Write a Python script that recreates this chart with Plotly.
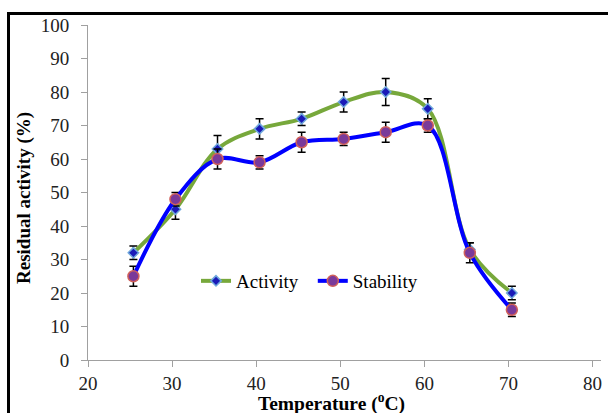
import plotly.graph_objects as go

temperature = [25.4, 30.4, 35.4, 40.4, 45.4, 50.4, 55.4, 60.4, 65.4, 70.4]
activity = [32, 45, 63, 69, 72, 77, 80, 75, 33, 20]
activity_err = [2, 3, 4, 3, 2, 3, 4, 3, 2, 2]
stability = [25, 48, 60, 59, 65, 66, 68, 70, 32, 15]
stability_err = [3, 2, 3, 2, 3, 2, 3, 2, 3, 2]
x_ticks = [20, 30, 40, 50, 60, 70, 80]
y_ticks = [0, 10, 20, 30, 40, 50, 60, 70, 80, 90, 100]

W, H = 608, 413
L, R, T, B = 88, 7, 25, 53
pw, ph = W - L - R, H - T - B

def px_x(p):
    return (p - L) / pw

def px_y(p):
    return (H - B - p) / ph

FONT = "Liberation Serif"

fig = go.Figure()
fig.add_trace(go.Scatter(
    x=temperature, y=activity, name="Activity\u00a0\u00a0", mode="lines+markers",
    line=dict(color="#77A83B", width=4, shape="spline", smoothing=1),
    marker=dict(symbol="diamond", size=8, color="#1A1AB8",
                line=dict(color="#6FA8DC", width=1.5)),
    error_y=dict(type="data", array=activity_err, visible=True,
                 color="black", thickness=1.5, width=4),
))
fig.add_trace(go.Scatter(
    x=temperature, y=stability, name="Stability", mode="lines+markers",
    line=dict(color="#0000FF", width=4, shape="spline", smoothing=1),
    marker=dict(symbol="circle", size=11, color="#7A3A9A",
                line=dict(color="#D0605A", width=1.5)),
    error_y=dict(type="data", array=stability_err, visible=True,
                 color="black", thickness=1.5, width=4),
))

axis_common = dict(
    showgrid=False, zeroline=False, showline=True, linecolor="#A0A0A0",
    linewidth=1, ticks="outside", tickcolor="#A0A0A0", ticklen=6,
    tickfont=dict(family=FONT, size=19, color="#222222"),
)
fig.update_xaxes(range=[20, 81], tickvals=x_ticks, ticktext=[str(v) for v in x_ticks],
                 **axis_common)
fig.update_yaxes(range=[0, 100], tickvals=y_ticks, ticktext=[str(v) for v in y_ticks],
                 ticklabelstandoff=8, **axis_common)

fig.add_annotation(text="<b>Temperature (<sup>o</sup>C)</b>", xref="paper", yref="paper",
                   x=px_x(331), y=px_y(403), showarrow=False,
                   font=dict(family=FONT, size=19.5, color="black"), xanchor="center",
                   yanchor="middle")
fig.add_annotation(text="<b>Residual activity (%)</b>", xref="paper", yref="paper",
                   x=px_x(24), y=px_y(198), showarrow=False, textangle=-90,
                   font=dict(family=FONT, size=19, color="black"), xanchor="center",
                   yanchor="middle")

fig.add_shape(type="rect", xref="paper", yref="paper",
              x0=px_x(8.5), x1=px_x(625), y0=px_y(13.5), y1=px_y(430),
              line=dict(color="black", width=3), fillcolor="rgba(0,0,0,0)", layer="above")

fig.update_layout(
    width=W, height=H, margin=dict(l=L, r=R, t=T, b=B),
    paper_bgcolor="white", plot_bgcolor="white",
    font=dict(family=FONT, size=18, color="black"),
    legend=dict(orientation="h", x=px_x(196), y=px_y(281), xanchor="left",
                yanchor="middle", bgcolor="rgba(0,0,0,0)",
                font=dict(family=FONT, size=19, color="black"),
                itemwidth=30, tracegroupgap=0),
    showlegend=True,
)

fig.write_html("out.html", config={"displayModeBar": False},
               post_script="document.body.style.margin='0px';document.body.style.overflow='hidden';")
